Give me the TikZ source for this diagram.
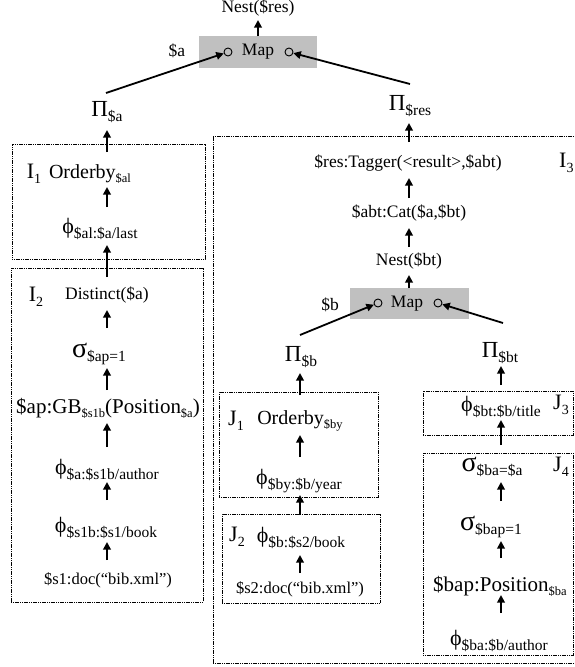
\documentclass[tikz,border=0pt]{standalone}
\usepackage{fontspec}
\setmainfont{Liberation Serif}
\usetikzlibrary{arrows.meta,calc}
\definecolor{mapgray}{RGB}{192,192,192}
\newcommand\fsz[1]{\fontsize{#1}{#1}\selectfont}
% operator symbols
\newcommand\opPi{{\fsz{23}Π}}
\newcommand\opSig{{\fsz{28}σ}}
\newcommand\opPhi{{\fsz{22}ϕ}}
% lowered indices: greek operators, plain operators, box labels
\newcommand\gsub[1]{\raisebox{-4.5pt}{\fsz{15.5}#1}}
\newcommand\tsub[1]{\raisebox{-4pt}{\fsz{12.5}#1}}
\newcommand\lsub[1]{\raisebox{-4.5pt}{\fsz{14}#1}}
\begin{document}
\begin{tikzpicture}[x=1pt,y=-1pt,
  txt/.style={inner sep=0pt,font=\fsz{17.5}},
  gk/.style={inner sep=0pt,font=\fsz{21}},
  ob/.style={inner sep=0pt,font=\fsz{20}},
  lab/.style={inner sep=0pt,font=\fsz{22}},
  dbox/.style={draw,line width=1pt,dash pattern=on 1.2pt off 0.6pt,inner sep=0pt},
  hub/.style={fill=mapgray,inner sep=0pt,font=\fsz{17.5}},
  port/.style={circle,draw,line width=0.9pt,inner sep=0pt,minimum size=8pt},
  arr/.style={line width=1.8pt,-{Triangle[length=7.5pt,width=7.5pt]}}]
\useasboundingbox (0,0) rectangle (574,667);

% column axes
\coordinate (colTop) at (258,0);
\coordinate (colL) at (107,0);
\coordinate (colT) at (409,0);
\coordinate (colM) at (300,0);
\coordinate (colR) at (501,0);

% outer map
\node[txt] (nestRes) at (258,8) {Nest(\$res)};
\node[hub,minimum width=118pt,minimum height=32pt] (hubTop) at (258,52) {Map};
\node[port] (pL) at (228,52) {};
\node[port] (pR) at (289,52) {};
\node[txt] (varA) at (177,51) {\$a};
\node[gk] (piA) at (107,112) {\opPi\gsub{\$a}};
\node[gk] (piRes) at (410,106) {\opPi\gsub{\$res}};

% block I1
\node[dbox,minimum width=193pt,minimum height=115pt] (boxI1) at (108.5,201.5) {};
\node[lab] (labI1) at (34,174) {I\lsub{1}};
\node[ob] (ordA) at (90,174) {Orderby\tsub{\$al}};
\node[gk] (phiAl) at (100,229) {\opPhi\gsub{\$al:\$a/last}};

% block I2
\node[dbox,minimum width=192pt,minimum height=334pt] (boxI2) at (107,435) {};
\node[lab] (labI2) at (36,297) {I\lsub{2}};
\node[txt] (distinct) at (107,295) {Distinct(\$a)};
\node[gk] (sigAp) at (99,354) {\opSig\gsub{\$ap=1}};
\node[gk] (gbAp) at (108,408) {\$ap:GB\tsub{\$s1b}(Position\tsub{\$a})};
\node[gk] (phiA) at (107,470) {\opPhi\gsub{\$a:\$s1b/author}};
\node[gk] (phiS1b) at (106,528) {\opPhi\gsub{\$s1b:\$s1/book}};
\node[txt,font=\fsz{16.5}] (docS1) at (108,580) {\$s1:doc(“bib.xml”)};

% block I3
\node[dbox,minimum width=377pt,minimum height=527pt] (boxI3) at (401.5,399.5) {};
\node[lab,anchor=west] (labI3) at (559,163) {I\lsub{3}};
\node[txt] (tagger) at (408,163) {\$res:Tagger(<result>,\$abt)};
\node[txt] (cat) at (409,213) {\$abt:Cat(\$a,\$bt)};
\node[txt] (nestBt) at (409,261) {Nest(\$bt)};
\node[hub,minimum width=119pt,minimum height=31pt] (hubLow) at (409.5,303.5) {\hspace*{-5pt}Map};
\node[port] (pLL) at (378,303) {};
\node[port] (pLR) at (438,303) {};
\node[txt] (varB) at (330,305) {\$b};
\node[gk] (piB) at (301,357) {\opPi\gsub{\$b}};
\node[gk] (piBt) at (500,353) {\opPi\gsub{\$bt}};

% block J1
\node[dbox,minimum width=159pt,minimum height=105pt] (boxJ1) at (298.5,444.5) {};
\node[lab] (labJ1) at (236,421) {J\lsub{1}};
\node[ob] (ordB) at (300,421) {Orderby\tsub{\$by}};
\node[gk] (phiBy) at (299,481) {\opPhi\gsub{\$by:\$b/year}};

% block J2
\node[dbox,minimum width=158pt,minimum height=89pt] (boxJ2) at (301,558.5) {};
\node[lab] (labJ2) at (237,537) {J\lsub{2}};
\node[gk] (phiB) at (301,538) {\opPhi\gsub{\$b:\$s2/book}};
\node[txt,font=\fsz{16.5}] (docS2) at (300,589) {\$s2:doc(“bib.xml”)};

% block J3
\node[dbox,minimum width=150pt,minimum height=44pt] (boxJ3) at (498,413) {};
\node[gk] (phiBt) at (501,407) {\opPhi\gsub{\$bt:\$b/title}};
\node[lab] (labJ3) at (561,405) {J\lsub{3}};

% block J4
\node[dbox,minimum width=150pt,minimum height=202pt] (boxJ4) at (498,554) {};
\node[lab] (labJ4) at (561,467) {J\lsub{4}};
\node[gk] (sigBa) at (492,467) {\opSig\gsub{\$ba=\$a}};
\node[gk] (sigBap) at (491,527) {\opSig\gsub{\$bap=1}};
\node[gk] (posBap) at (500,586) {\$bap:Position\tsub{\$ba}};
\node[gk] (phiBa) at (499,641) {\opPhi\gsub{\$ba:\$b/author}};

% inputs of the two maps
\draw[arr] ($(piA)+(-1,-19)$) -- (pL);
\draw[arr] ($(piRes)+(0,-22)$) -- (pR);
\draw[arr] ($(piB)+(-1,-22)$) -- (pLL);
\draw[arr] ($(piBt)+(3,-30)$) -- (pLR);

% data flow, bottom to top
\draw[arr] ($(hubTop -| colTop)+(0,-16)$) -- ($(nestRes -| colTop)+(0,12)$);

\draw[arr] ($(boxI1 -| colL)+(0,-49.5)$) -- ($(piA -| colL)+(0,18)$);
\draw[arr] ($(phiAl -| colL)+(0,-22)$) -- ($(ordA -| colL)+(0,13)$);
\draw[arr] ($(distinct -| colL)+(0,-18)$) -- ($(phiAl -| colL)+(0,16)$);
\draw[arr] ($(sigAp -| colL)+(0,-26)$) -- ($(distinct -| colL)+(0,15)$);
\draw[arr] ($(gbAp -| colL)+(0,-18)$) -- ($(sigAp -| colL)+(0,14)$);
\draw[arr] ($(phiA -| colL)+(0,-23)$) -- ($(gbAp -| colL)+(0,15)$);
\draw[arr] ($(phiS1b -| colL)+(0,-28)$) -- ($(phiA -| colL)+(0,12)$);
\draw[arr] ($(docS1 -| colL)+(0,-20)$) -- ($(phiS1b -| colL)+(0,14)$);

\draw[arr] ($(boxI3 -| colT)+(0,-257.5)$) -- ($(piRes -| colT)+(0,17)$);
\draw[arr] ($(cat -| colT)+(0,-15)$) -- ($(tagger -| colT)+(0,15)$);
\draw[arr] ($(nestBt -| colT)+(0,-14)$) -- ($(cat -| colT)+(0,15)$);
\draw[arr] ($(hubLow -| colT)+(0,-15.5)$) -- ($(nestBt -| colT)+(0,14)$);

\draw[arr] ($(boxJ1 -| colM)+(0,-49.5)$) -- ($(piB -| colM)+(0,16)$);
\draw[arr] ($(phiBy -| colM)+(0,-24)$) -- ($(ordB -| colM)+(0,14)$);
\draw[arr] ($(phiB -| colM)+(0,-23)$) -- ($(phiBy -| colM)+(0,14)$);
\draw[arr] ($(docS2 -| colM)+(0,-16)$) -- ($(phiB -| colM)+(0,17)$);

\draw[arr] ($(boxJ3 -| colR)+(0,-28)$) -- ($(piBt -| colR)+(0,13)$);
\draw[arr] ($(sigBa -| colR)+(0,-22)$) -- ($(phiBt -| colR)+(0,13)$);
\draw[arr] ($(sigBap -| colR)+(0,-26)$) -- ($(sigBa -| colR)+(0,15)$);
\draw[arr] ($(posBap -| colR)+(0,-28)$) -- ($(sigBap -| colR)+(0,14)$);
\draw[arr] ($(phiBa -| colR)+(0,-28)$) -- ($(posBap -| colR)+(0,9)$);
\end{tikzpicture}
\end{document}
